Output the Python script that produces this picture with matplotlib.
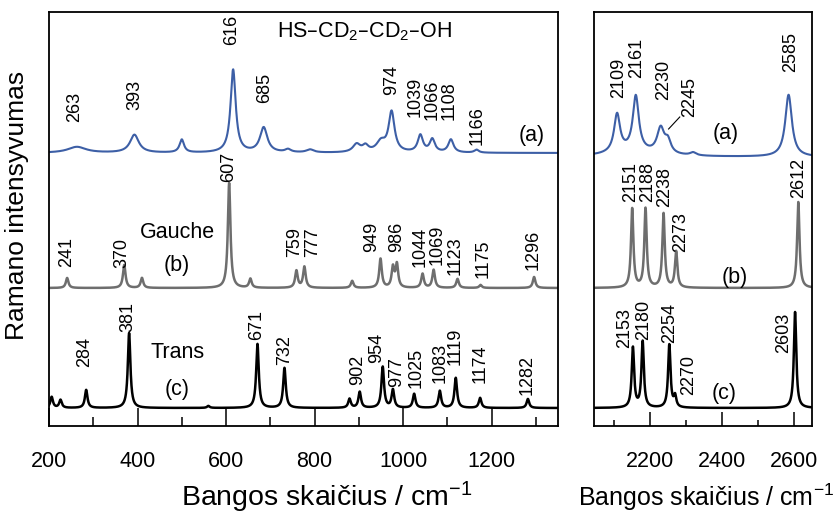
import matplotlib.pyplot as plt
import numpy as np

plt.rcParams['font.family'] = ['Liberation Sans', 'DejaVu Sans']
plt.rcParams['mathtext.default'] = 'regular'

# --- peak tables: centre (cm-1), height, half width ---
# (a) experimental spectrum, 200-1350 cm-1
exp_lo_pos = [263, 393, 500, 616, 685, 740, 790, 895, 915, 950, 974, 1039, 1066, 1108, 1166]
exp_lo_amp = [6, 18, 13, 83, 25, 3, 3, 8, 6, 10, 40, 17, 13, 13, 3]
exp_lo_wid = [25, 12, 6, 7, 10, 8, 10, 10, 8, 12, 8, 7, 7, 7, 6]
# (a) experimental spectrum, 2050-2650 cm-1
exp_hi_pos = [2109, 2161, 2230, 2250, 2320, 2585, 2150]
exp_hi_amp = [38, 55, 25, 12, 3, 62, 5]
exp_hi_wid = [10, 10, 12, 10, 10, 11, 80]

# (b) gauche, calculated
gau_lo_pos = [241, 370, 410, 607, 655, 759, 777, 885, 949, 977, 986, 1044, 1069, 1123, 1175, 1296]
gau_lo_amp = [10, 23, 10, 105, 9, 17, 21, 7, 29, 20, 23, 14, 18, 9, 3, 11]
gau_hi_pos = [2151, 2188, 2238, 2273, 2612]
gau_hi_amp = [79, 79, 74, 36, 86]

# (c) trans, calculated
tra_lo_pos = [206, 226, 284, 381, 560, 671, 732, 879, 902, 954, 977, 1025, 1083, 1119, 1174, 1282]
tra_lo_amp = [11, 8, 18, 75, 2, 64, 40, 9, 16, 41, 18, 14, 17, 30, 10, 9]
tra_hi_pos = [2153, 2180, 2254, 2270, 2603]
tra_hi_amp = [60, 66, 63, 11, 96]

# peak labels (text, x, y)
lab_a_lo = [('263', 258, 304), ('393', 393, 316), ('616', 612, 381), ('685', 687, 323),
            ('974', 974, 331), ('1039', 1028, 309), ('1066', 1065, 306), ('1108', 1104, 306),
            ('1166', 1168, 281)]
lab_b_lo = [('241', 240, 159), ('370', 364, 158), ('607', 606, 244), ('759', 755, 169),
            ('777', 795, 169), ('949', 929, 174), ('986', 985, 174), ('1044', 1039, 159),
            ('1069', 1078, 161), ('1123', 1117, 151), ('1175', 1180, 148), ('1296', 1293, 156)]
lab_c_lo = [('284', 280, 59), ('381', 378, 94), ('671', 669, 86), ('732', 732, 61),
            ('902', 897, 41), ('954', 940, 63), ('977', 985, 39), ('1025', 1030, 38),
            ('1083', 1083, 43), ('1119', 1118, 61), ('1174', 1173, 43), ('1282', 1281, 31)]
lab_a_hi = [('2109', 2112, 328), ('2161', 2164, 348), ('2230', 2239, 326), ('2245', 2310, 309),
            ('2585', 2592, 354)]
lab_b_hi = [('2151', 2148, 224), ('2188', 2194, 224), ('2238', 2242, 219), ('2273', 2286, 174),
            ('2612', 2614, 228)]
lab_c_hi = [('2153', 2131, 78), ('2180', 2183, 86), ('2254', 2255, 83), ('2270', 2308, 31),
            ('2603', 2572, 73)]

# vertical offsets of the three traces
off_a, off_b, off_c = 273, 138, 18
calc_wid_lo, calc_wid_hi = 3.5, 4.0

c_exp = '#3d5fa6'
c_gau = '#6e6e6e'
c_tra = 'black'


def lorentz(x, pos, amp, wid):
    y = np.zeros_like(x)
    for p, a, w in zip(pos, amp, wid):
        y += a / (1 + ((x - p) / w) ** 2)
    return y


x_lo = np.linspace(200, 1350, 4000)
x_hi = np.linspace(2045, 2650, 3000)

fig = plt.figure(figsize=(8.36, 5.15), dpi=100)
ax1 = fig.add_axes([49 / 836, 1 - 426 / 515, 509 / 836, 414 / 515])
ax2 = fig.add_axes([594 / 836, 1 - 426 / 515, 218 / 836, 414 / 515])

# left panel
ax1.plot(x_lo, off_a + lorentz(x_lo, exp_lo_pos, exp_lo_amp, exp_lo_wid), color=c_exp, lw=1.5)
ax1.plot(x_lo, off_b + lorentz(x_lo, gau_lo_pos, gau_lo_amp, [calc_wid_lo] * len(gau_lo_pos)),
         color=c_gau, lw=1.8)
ax1.plot(x_lo, off_c + lorentz(x_lo, tra_lo_pos, tra_lo_amp, [calc_wid_lo] * len(tra_lo_pos)),
         color=c_tra, lw=1.8)

# right panel
ax2.plot(x_hi, off_a - 4 + lorentz(x_hi, exp_hi_pos, exp_hi_amp, exp_hi_wid), color=c_exp, lw=1.5)
ax2.plot(x_hi, off_b + lorentz(x_hi, gau_hi_pos, gau_hi_amp, [calc_wid_hi] * len(gau_hi_pos)),
         color=c_gau, lw=1.8)
ax2.plot(x_hi, off_c + lorentz(x_hi, tra_hi_pos, tra_hi_amp, [calc_wid_hi] * len(tra_hi_pos)),
         color=c_tra, lw=1.8)

for ax, labs in ((ax1, lab_a_lo + lab_b_lo + lab_c_lo), (ax2, lab_a_hi + lab_b_hi + lab_c_hi)):
    for t, x, y in labs:
        ax.text(x, y, t, rotation=90, ha='center', va='bottom', fontsize=13)

# leader line for the 2245 shoulder
ax2.plot([2283, 2252], [309, 297], color='black', lw=0.8)

# panel texts
ax1.text(913, 394, r'HS–CD$_2$–CD$_2$–OH', ha='center', va='center', fontsize=15.5)
ax1.text(1290, 291, '(a)', ha='center', va='center', fontsize=15.5)
ax1.text(490, 193, 'Gauche', ha='center', va='center', fontsize=15.5)
ax1.text(488, 161, '(b)', ha='center', va='center', fontsize=15.5)
ax1.text(490, 73, 'Trans', ha='center', va='center', fontsize=15.5)
ax1.text(490, 36, '(c)', ha='center', va='center', fontsize=15.5)
ax2.text(2410, 293, '(a)', ha='center', va='center', fontsize=15.5)
ax2.text(2435, 148, '(b)', ha='center', va='center', fontsize=15.5)
ax2.text(2407, 33, '(c)', ha='center', va='center', fontsize=15.5)

# axes styling
ax1.set_xlim(200, 1350)
ax2.set_xlim(2045, 2650)
ax1.set_xticks([200, 400, 600, 800, 1000, 1200])
ax1.set_xticks(np.arange(300, 1350, 200), minor=True)
ax2.set_xticks([2200, 2400, 2600])
ax2.set_xticks([2100, 2300, 2500], minor=True)
for ax, maj, mnr in ((ax1, 13, 6.5), (ax2, 10, 4.5)):
    ax.set_ylim(0, 414)
    ax.set_yticks([])
    ax.tick_params(axis='x', which='major', direction='in', length=maj, width=1.1,
                   pad=18, labelsize=15.5)
    ax.tick_params(axis='x', which='minor', direction='in', length=mnr, width=1.1)
    for s in ax.spines.values():
        s.set_linewidth(1.3)

fig.text(327 / 836, 1 - 497 / 515, 'Bangos skaičius / cm$^{-1}$', ha='center', va='center', fontsize=20.5)
fig.text(706 / 836, 1 - 497 / 515, 'Bangos skaičius / cm$^{-1}$', ha='center', va='center', fontsize=18)
fig.text(17 / 836, 1 - 205 / 515, 'Ramano intensyvumas', rotation=90, ha='center', va='center', fontsize=19)

fig.savefig('out.png', dpi=100)
